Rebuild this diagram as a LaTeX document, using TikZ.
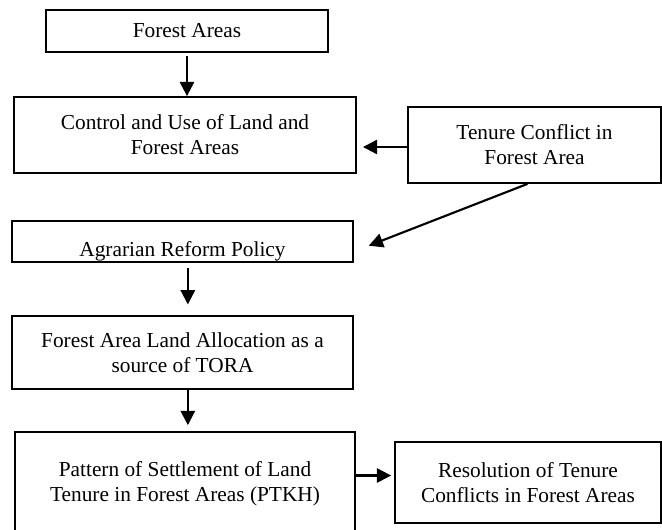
\documentclass[tikz,border=0pt]{standalone}
\usepackage{fontspec}
\setmainfont{Liberation Serif}
\usetikzlibrary{arrows.meta,calc}

\begin{document}
\begin{tikzpicture} %
		[
			x=0.5625pt, y=-0.5625pt,
			font={\fontsize{12}{14}\selectfont},
			every text node part/.style={align=center},
			box/.style={
				draw,
				line width=1pt,
				inner sep=0pt,
			},
			arch/.style={-{Triangle[length=8pt,width=8pt]}, line width=1.2pt},
		]
		\path[use as bounding box, clip] (0,0) rectangle (662,529);
		\node[box, minimum width=158.6pt, minimum height=23.6pt]
		(forest) at (187,31) {Forest Areas};
		\node[box, minimum width=192.4pt, minimum height=42.75pt]
		(control) at (185,135) {Control and Use of Land and\\Forest Areas};
		\node[box, minimum width=142.3pt, minimum height=42.75pt]
		(conflict) at (534.5,145) {Tenure Conflict in\\Forest Area};
		% text sits low in this box
		\node[box, minimum width=191.8pt, minimum height=23.1pt, text height=17pt, text depth=0pt]
		(agrarian) at (182.5,241.5) {Agrarian Reform Policy};
		\node[box, minimum width=191.8pt, minimum height=41.1pt]
		(alloc) at (182.5,352.5) {Forest Area Land Allocation as a\\source of TORA};
		\node[box, minimum width=191.25pt, minimum height=57.9pt]
		(pattern) at (185,483.5) {Pattern of Settlement of Land\\Tenure in Forest Areas (PTKH)};
		\node[box, minimum width=149.6pt, minimum height=45.6pt]
		(resol) at (528,482.5) {Resolution of Tenure\\Conflicts in Forest Areas};
		\draw[arch, shorten <=2pt] (forest.south) -- (forest.south |- control.north);
		\draw[arch, shorten >=3.4pt] ($(conflict.west)+(0,2)$) -- ($(conflict.west -| control.east)+(0,2)$);
		\draw[arch, shorten >=9pt] ($(conflict.south)+(-7,0)$) -- ($(agrarian.east)+(0,10)$);
		\draw[arch, shorten <=3pt, shorten >=6pt] ([xshift=3pt]agrarian.south) -- ([xshift=3pt]agrarian.south |- alloc.north);
		\draw[arch, shorten >=3.4pt] ([xshift=3pt]alloc.south) -- ([xshift=3pt]alloc.south |- pattern.north);
		\draw[arch, shorten >=1.7pt] ($(pattern.east)+(0,-8)$) -- ($(pattern.east -| resol.west)+(0,-8)$);
	\end{tikzpicture}
\end{document}
